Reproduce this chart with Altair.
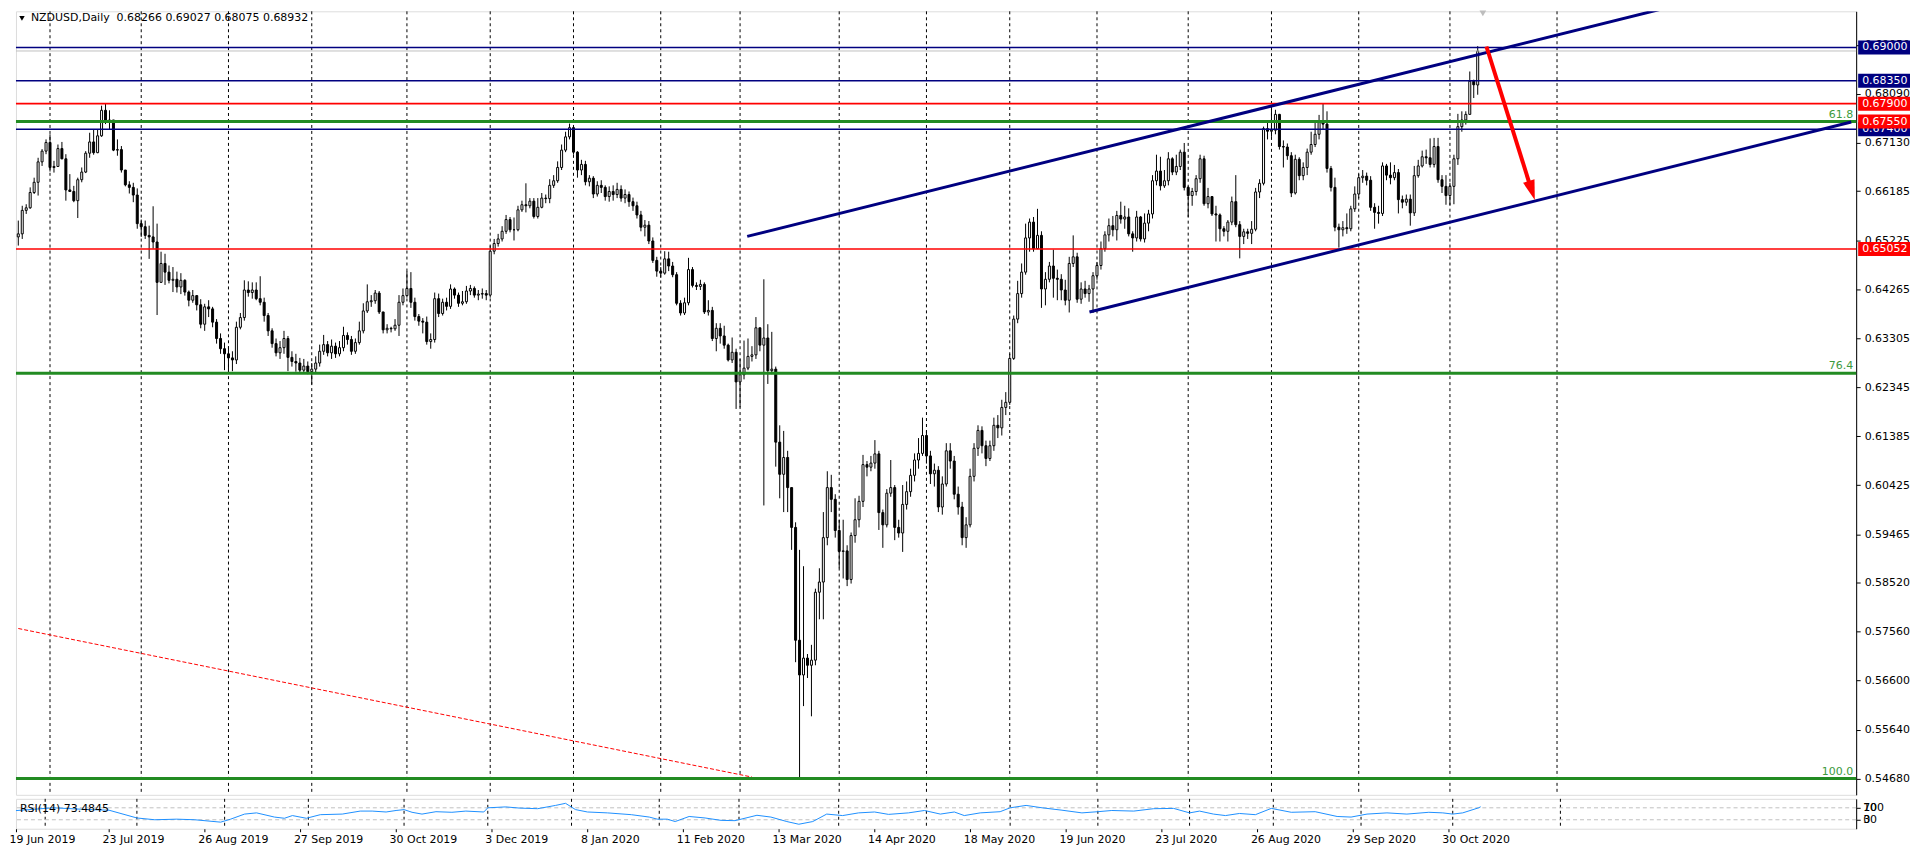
import altair as alt
import pandas as pd

FONT = "DejaVu Sans"
NAVY = "#000080"
RED = "#FF0000"
GREEN = "#228B22"
FIB_TEXT = "#3C9A3C"
RSI_BLUE = "#1E90FF"

symbol = "NZDUSD,Daily"
first_open = 6529
# daily closes / highs / lows in 1/10000 (bar 0 = 19 Jun 2019)
closes = [
    6535, 6581, 6586, 6616, 6636, 6676, 6697, 6714, 6665, 6667,
    6702, 6682, 6621, 6618, 6600, 6641, 6656, 6693, 6715, 6694,
    6727, 6777, 6756, 6758, 6699, 6700, 6660, 6631, 6626, 6611,
    6555, 6549, 6532, 6529, 6519, 6440, 6477, 6460, 6444, 6446,
    6431, 6444, 6421, 6405, 6414, 6396, 6358, 6392, 6388, 6362,
    6330, 6310, 6300, 6292, 6288, 6352, 6371, 6425, 6420, 6425,
    6408, 6401, 6375, 6345, 6320, 6302, 6312, 6330, 6293, 6285,
    6282, 6268, 6276, 6265, 6270, 6282, 6305, 6318, 6302, 6315,
    6300, 6312, 6336, 6328, 6305, 6322, 6345, 6384, 6402, 6404,
    6419, 6382, 6347, 6350, 6349, 6356, 6401, 6414, 6428, 6401,
    6373, 6364, 6362, 6324, 6328, 6408, 6379, 6401, 6393, 6427,
    6415, 6399, 6402, 6423, 6428, 6415, 6417, 6418, 6415, 6501,
    6516, 6525, 6540, 6563, 6543, 6543, 6582, 6592, 6590, 6599,
    6569, 6587, 6605, 6604, 6630, 6639, 6665, 6699, 6725, 6743,
    6695, 6660, 6671, 6637, 6644, 6613, 6630, 6626, 6608, 6618,
    6612, 6622, 6605, 6612, 6598, 6590, 6572, 6548, 6552, 6521,
    6483, 6462, 6458, 6486, 6472, 6455, 6399, 6380, 6400, 6465,
    6434, 6432, 6436, 6382, 6385, 6330, 6350, 6335, 6317, 6288,
    6303, 6245, 6259, 6272, 6295, 6298, 6351, 6317, 6331, 6267,
    6270, 6127, 6064, 6097, 6038, 5960, 5739, 5671, 5704, 5690,
    5700, 5833, 5853, 5940, 6038, 6015, 5954, 5913, 5914, 5858,
    5944, 5975, 6011, 6083, 6078, 6086, 6104, 5989, 5965, 6027,
    6038, 5960, 5949, 6005, 6030, 6062, 6092, 6105, 6140, 6100,
    6065, 6072, 6000, 6045, 6110, 6090, 6025, 6000, 5940, 5965,
    6060, 6115, 6150, 6120, 6095, 6120, 6160, 6155, 6195, 6205,
    6291, 6368, 6418, 6460, 6527, 6558, 6506, 6532, 6427, 6446,
    6472, 6448, 6446, 6425, 6405, 6477, 6490, 6407, 6427, 6418,
    6427, 6453, 6473, 6506, 6533, 6551, 6543, 6571, 6564, 6568,
    6535, 6527, 6568, 6525, 6556, 6574, 6639, 6658, 6629, 6639,
    6682, 6656, 6667, 6695, 6626, 6610, 6618, 6643, 6682, 6594,
    6608, 6574, 6572, 6545, 6540, 6558, 6598, 6553, 6530, 6539,
    6536, 6544, 6617, 6634, 6741, 6736, 6738, 6769, 6706, 6705,
    6688, 6615, 6681, 6649, 6665, 6695, 6710, 6730, 6753, 6750,
    6663, 6626, 6548, 6543, 6547, 6545, 6584, 6613, 6645, 6648,
    6640, 6587, 6577, 6575, 6668, 6650, 6645, 6655, 6602, 6597,
    6603, 6576, 6649, 6668, 6686, 6684, 6671, 6706, 6641, 6628,
    6610, 6628, 6682, 6745, 6758, 6769, 6834, 6827, 6893,
]
highs = [
    6561, 6590, 6593, 6626, 6645, 6684, 6701, 6720, 6730, 6678,
    6710, 6715, 6691, 6652, 6629, 6645, 6665, 6697, 6733, 6740,
    6740, 6786, 6790, 6777, 6757, 6720, 6707, 6660, 6638, 6635,
    6624, 6563, 6561, 6551, 6589, 6555, 6500, 6496, 6473, 6470,
    6461, 6458, 6446, 6424, 6425, 6415, 6407, 6398, 6405, 6392,
    6368, 6340, 6322, 6315, 6305, 6363, 6380, 6444, 6442, 6440,
    6440, 6452, 6410, 6380, 6350, 6330, 6325, 6345, 6335, 6305,
    6300, 6292, 6290, 6285, 6282, 6295, 6318, 6337, 6325, 6328,
    6322, 6325, 6353, 6342, 6335, 6330, 6363, 6399, 6436, 6415,
    6425, 6423, 6381, 6358, 6353, 6368, 6415, 6428, 6462, 6460,
    6410, 6378, 6370, 6373, 6340, 6420, 6418, 6408, 6410, 6436,
    6430, 6420, 6423, 6433, 6435, 6432, 6425, 6428, 6425, 6512,
    6525, 6535, 6550, 6572, 6568, 6567, 6590, 6600, 6634, 6605,
    6605, 6605, 6615, 6612, 6642, 6650, 6677, 6710, 6735, 6751,
    6745, 6697, 6680, 6678, 6650, 6648, 6638, 6640, 6630, 6628,
    6630, 6635, 6630, 6622, 6618, 6606, 6598, 6580, 6562, 6560,
    6528, 6490, 6470, 6501, 6500, 6480, 6460, 6405, 6410, 6488,
    6470, 6440, 6445, 6440, 6405, 6392, 6360, 6360, 6355, 6320,
    6332, 6310, 6290, 6326, 6330, 6315, 6372, 6350, 6446, 6358,
    6343, 6275, 6160, 6149, 6110, 6035, 5970, 5916, 5884, 5712,
    5730, 5840, 5880, 5990, 6070, 6063, 6025, 5975, 5975, 5925,
    5950, 6017, 6022, 6102, 6090, 6100, 6131, 6110, 5995, 6035,
    6092, 6043, 5975, 6043, 6050, 6075, 6105, 6135, 6175, 6150,
    6110, 6085, 6080, 6060, 6125, 6125, 6100, 6040, 6010, 5980,
    6075, 6125, 6160, 6158, 6130, 6130, 6175, 6180, 6210, 6225,
    6300, 6375, 6443, 6477, 6555, 6565, 6568, 6584, 6540, 6460,
    6480, 6504, 6465, 6456, 6445, 6490, 6532, 6498, 6440, 6443,
    6435, 6460, 6480, 6520, 6540, 6565, 6570, 6580, 6598, 6590,
    6585, 6540, 6580, 6570, 6575, 6582, 6650, 6690, 6686, 6660,
    6695, 6685, 6690, 6700, 6713, 6628, 6625, 6650, 6690, 6688,
    6625, 6598, 6590, 6575, 6550, 6562, 6608, 6650, 6560, 6545,
    6545, 6560, 6625, 6642, 6745, 6755, 6780, 6778, 6770, 6718,
    6712, 6695, 6690, 6685, 6675, 6702, 6735, 6755, 6768, 6790,
    6775, 6668, 6645, 6555, 6560, 6575, 6590, 6628, 6652, 6660,
    6655, 6648, 6595, 6590, 6675, 6672, 6675, 6670, 6662, 6610,
    6612, 6612, 6668, 6680, 6698, 6700, 6722, 6723, 6723, 6650,
    6650, 6635, 6690, 6770, 6775, 6775, 6853, 6837, 6903,
]
lows = [
    6512, 6525, 6574, 6584, 6613, 6610, 6668, 6691, 6657, 6655,
    6668, 6681, 6600, 6617, 6597, 6566, 6636, 6654, 6684, 6690,
    6693, 6725, 6750, 6740, 6697, 6688, 6655, 6628, 6614, 6597,
    6545, 6529, 6525, 6486, 6506, 6376, 6440, 6435, 6438, 6421,
    6420, 6417, 6414, 6393, 6400, 6385, 6350, 6345, 6372, 6352,
    6320, 6300, 6268, 6265, 6266, 6280, 6348, 6365, 6412, 6408,
    6405, 6395, 6363, 6335, 6312, 6295, 6290, 6300, 6266, 6275,
    6265, 6262, 6262, 6260, 6240, 6262, 6275, 6298, 6295, 6290,
    6292, 6295, 6305, 6318, 6298, 6300, 6318, 6340, 6380, 6392,
    6398, 6378, 6340, 6340, 6342, 6345, 6335, 6395, 6410, 6390,
    6365, 6355, 6340, 6318, 6310, 6322, 6372, 6375, 6385, 6388,
    6408, 6392, 6395, 6398, 6415, 6410, 6405, 6408, 6405, 6410,
    6495, 6510, 6520, 6535, 6538, 6522, 6540, 6578, 6577, 6585,
    6565, 6565, 6585, 6595, 6595, 6625, 6635, 6660, 6695, 6720,
    6690, 6645, 6650, 6630, 6628, 6605, 6608, 6615, 6600, 6598,
    6600, 6605, 6598, 6595, 6588, 6580, 6565, 6540, 6530, 6515,
    6478, 6451, 6449, 6455, 6462, 6450, 6395, 6375, 6376, 6395,
    6430, 6425, 6425, 6378, 6375, 6325, 6305, 6320, 6310, 6285,
    6282, 6192, 6195, 6250, 6268, 6285, 6290, 6305, 6003, 6241,
    6260, 6079, 6017, 5990, 5990, 5916, 5696, 5468, 5610, 5665,
    5590, 5690, 5780, 5780, 5925, 5990, 5940, 5880, 5860, 5845,
    5850, 5930, 5960, 6000, 6060, 6070, 6075, 5955, 5920, 5960,
    6020, 5935, 5940, 5912, 5995, 6020, 6050, 6075, 6100, 6085,
    6045, 6040, 5990, 5985, 6040, 6075, 6015, 5985, 5925, 5920,
    5960, 6050, 6100, 6105, 6080, 6090, 6110, 6135, 6140, 6180,
    6200, 6288, 6360, 6410, 6455, 6500, 6500, 6505, 6390, 6395,
    6440, 6410, 6405, 6405, 6395, 6381, 6470, 6400, 6398, 6410,
    6402, 6380, 6445, 6465, 6500, 6520, 6530, 6522, 6555, 6545,
    6530, 6500, 6520, 6520, 6518, 6540, 6565, 6630, 6620, 6625,
    6630, 6650, 6650, 6660, 6620, 6568, 6590, 6610, 6635, 6590,
    6585, 6570, 6520, 6520, 6530, 6520, 6552, 6548, 6487, 6515,
    6525, 6515, 6540, 6605, 6630, 6720, 6725, 6730, 6700, 6665,
    6680, 6607, 6612, 6640, 6640, 6650, 6690, 6705, 6720, 6740,
    6655, 6618, 6540, 6508, 6530, 6535, 6540, 6578, 6605, 6635,
    6630, 6580, 6545, 6555, 6570, 6640, 6632, 6640, 6575, 6585,
    6590, 6551, 6570, 6645, 6665, 6672, 6665, 6665, 6635, 6615,
    6592, 6591, 6593, 6670, 6735, 6749, 6778, 6801, 6808,
]
last_bar = [0.68266, 0.69027, 0.68075, 0.68932]  # O H L C shown in header

date_labels = ["19 Jun 2019", "23 Jul 2019", "26 Aug 2019", "27 Sep 2019",
               "30 Oct 2019", "3 Dec 2019", "8 Jan 2020", "11 Feb 2020",
               "13 Mar 2020", "14 Apr 2020", "18 May 2020", "19 Jun 2020",
               "23 Jul 2020", "26 Aug 2020", "29 Sep 2020", "30 Oct 2020"]
label_idx = [0, 24, 48, 72, 96, 120, 144, 168, 192, 216, 240, 264, 288, 312, 336, 360]
month_idx = [8, 31, 53, 74, 98, 119, 140, 162, 182, 207, 229, 250, 272, 295, 316, 338, 361, 388]
price_ticks = [0.69050, 0.68090, 0.67130, 0.66185, 0.65225, 0.64265, 0.63305, 0.62345,
               0.61385, 0.60425, 0.59465, 0.58520, 0.57560, 0.56600, 0.55640, 0.54680]

navy_levels = [0.69000, 0.68350, 0.67400]
red_levels = [0.67900, 0.65052]
bid_level = [0.68932]
fib_levels = [0.67550, 0.62620, 0.54680]
fib_names = ["61.8", "76.4", "100.0"]
box_prices = [0.69000, 0.68350, 0.67900, 0.67550, 0.65052]
box_texts = ["0.69000", "0.68350", "0.67900", "0.67550", "0.65052"]
box_colors = [NAVY, NAVY, RED, RED, RED]
under_box_price = [0.67400]
under_box_text = ["0.67400"]

channel_name = ["upper", "upper", "lower", "lower"]
channel_idx = [183.8, 414.4, 270.1, 462.2]
channel_price = [0.65300, 0.69754, 0.63818, 0.67540]
fib_trend_idx = [0.0, 185.0]
fib_trend_price = [0.5762, 0.5471]
arrow_idx = [370.2, 381.0]
arrow_price = [0.6902, 0.6635]
arrow_tip_idx = [382.4]
arrow_tip_price = [0.66013]
shift_idx = [369.3]
shift_price = [0.6967]

rsi_idx = [0, 10, 19, 24, 31, 35.5, 41, 45.5, 52, 54.5,
           58, 61, 65.5, 68, 70, 73.5, 77, 82.5, 87, 90,
           93.5, 96, 98, 100, 102.5, 106, 110, 113.5, 118, 119,
           123.5, 127, 131.5, 136, 138.5, 141, 144, 149, 155, 159.5,
           161.5, 164, 166, 169.5, 173.5, 177.5, 181, 186.5, 190, 194,
           197, 200.5, 204, 208, 212, 216, 219.5, 224.5, 228.5, 232.5,
           236, 238.5, 242.5, 247.5, 250, 254, 258, 263, 268, 272,
           275.5, 281, 286, 291, 295, 297.5, 301, 304, 307.5, 311.5,
           315.5, 320.5, 326.5, 332, 335.5, 339.5, 344.5, 349.5, 355, 358.5,
           361, 363.5, 367.5, 368]
rsi_val = [60, 70, 64, 62, 36, 30, 32, 30, 22, 32,
           49, 53, 39, 35, 44, 35, 47, 49, 59, 59,
           56, 61, 64, 55, 49, 57, 55, 59, 56, 70,
           73, 69, 67, 78, 85, 64, 56, 53, 47, 39,
           32, 32, 24, 41, 36, 28, 27, 45, 39, 24,
           15, 24, 49, 44, 53, 56, 48, 53, 61, 49,
           56, 44, 53, 57, 70, 78, 70, 62, 53, 57,
           61, 59, 67, 68, 53, 59, 49, 44, 51, 47,
           68, 55, 57, 41, 39, 49, 53, 49, 55, 53,
           49, 53, 70, 73.4845]
rsi_levels = [30, 70]
rsi_side_v = [70, 70, 30, 30]
rsi_side_t = ["100", "70", "30", "0"]

# ---------------- geometry -----------------
W = 1846
H = 786
RH = 30
BAR_PX = 4
X_DOMAIN = [0.675, 0.675 + W / BAR_PX]
PX_PER_UNIT = 5121.5
Y_TOP = 0.697088
Y_DOMAIN = [Y_TOP - H / PX_PER_UNIT, Y_TOP]
BOX_HALF = 7 / PX_PER_UNIT

xs = alt.Scale(domain=X_DOMAIN, nice=False, zero=False)
ys = alt.Scale(domain=Y_DOMAIN, nice=False, zero=False)

n = min(len(closes), len(highs), len(lows))
opens = [first_open] + closes[:-1]
rows = []
for k in range(n):
    o, c, h, l = opens[k] / 1e4, closes[k] / 1e4, highs[k] / 1e4, lows[k] / 1e4
    if k == n - 1:
        o, h, l, c = last_bar
    rows.append({"i": k, "o": o, "c": c, "h": max(h, o, c), "l": min(l, o, c)})
cdf = pd.DataFrame(rows)

yaxis = alt.Axis(orient="right", values=price_ticks, format=".5f", title=None, grid=False,
                 tickSize=4, labelPadding=4, labelFont=FONT, labelFontSize=11,
                 labelColor="black", domainColor="black", tickColor="black",
                 labelOverlap=False, labelFlush=False, zindex=0)


def XQ(field="i"):
    return alt.X(f"{field}:Q", scale=xs, axis=None)


def YQ(field="p"):
    return alt.Y(f"{field}:Q", scale=ys, axis=yaxis)


grid = alt.Chart(pd.DataFrame({"i": month_idx})).mark_rule(
    color="black", strokeDash=[3, 3], strokeWidth=1).encode(x=XQ())

wicks = alt.Chart(cdf).mark_rule(color="black", strokeWidth=1).encode(
    x=XQ(), y=YQ("l"), y2="h:Q")
bodies = alt.Chart(cdf).mark_bar(size=2, orient="vertical", stroke="black", strokeWidth=1).encode(
    x=XQ(), y=YQ("o"), y2="c:Q",
    fill=alt.condition("datum.c >= datum.o", alt.value("white"), alt.value("black")))

fib_trend = alt.Chart(pd.DataFrame({"i": fib_trend_idx, "p": fib_trend_price})).mark_line(
    color=RED, strokeDash=[4, 2], strokeWidth=1, clip=True).encode(x=XQ(), y=YQ())

navy_lines = alt.Chart(pd.DataFrame({"p": navy_levels})).mark_rule(
    color=NAVY, strokeWidth=1.6).encode(y=YQ())
red_lines = alt.Chart(pd.DataFrame({"p": red_levels})).mark_rule(
    color=RED, strokeWidth=1.6).encode(y=YQ())
bid_line = alt.Chart(pd.DataFrame({"p": bid_level})).mark_rule(
    color="#C0C0C0", strokeWidth=1).encode(y=YQ())
fib_lines = alt.Chart(pd.DataFrame({"p": fib_levels})).mark_rule(
    color=GREEN, strokeWidth=3).encode(y=YQ())
fib_text = alt.Chart(pd.DataFrame({"p": fib_levels, "t": fib_names})).mark_text(
    align="right", baseline="bottom", dy=-2, font=FONT, fontSize=11, color=FIB_TEXT).encode(
    x=alt.value(W - 3), y=YQ(), text="t:N")

channels = alt.Chart(pd.DataFrame({"g": channel_name, "i": channel_idx, "p": channel_price})).mark_line(
    color=NAVY, strokeWidth=3, clip=True).encode(x=XQ(), y=YQ(), detail="g:N")

arrow_line = alt.Chart(pd.DataFrame({"i": arrow_idx, "p": arrow_price})).mark_line(
    color=RED, strokeWidth=4, clip=True).encode(x=XQ(), y=YQ())
arrow_head = alt.Chart(pd.DataFrame({"i": arrow_tip_idx, "p": arrow_tip_price})).mark_point(
    shape="M0,0L-0.6,-2L0.6,-2Z", size=400, filled=True, color=RED, opacity=1,
    angle=342.4).encode(x=XQ(), y=YQ())

shift_mark = alt.Chart(pd.DataFrame({"i": shift_idx, "p": shift_price})).mark_point(
    shape="triangle-down", size=45, filled=True, color="#BDBDBD", opacity=1).encode(x=XQ(), y=YQ())


def box_layers(prices, texts, colors):
    d = pd.DataFrame({"p": prices, "t": texts, "col": colors})
    d["top"] = d["p"] + BOX_HALF
    d["bot"] = d["p"] - BOX_HALF
    rect = alt.Chart(d).mark_rect().encode(
        x=alt.value(W + 2), x2=alt.value(W + 54), y=YQ("top"), y2="bot:Q",
        color=alt.Color("col:N", scale=None))
    txt = alt.Chart(d).mark_text(align="left", baseline="middle", font=FONT, fontSize=11,
                                 color="white").encode(
        x=alt.value(W + 6), y=YQ(), text="t:N")
    return [rect, txt]


under = box_layers(under_box_price, under_box_text, [NAVY])
over = box_layers(box_prices, box_texts, box_colors)

title_str = symbol + "\u00a0 " + " ".join(f"{v:.5f}" for v in last_bar)
title_tri = alt.Chart(pd.DataFrame({"a": [0]})).mark_point(
    shape="triangle-down", size=30, filled=True, color="black", opacity=1).encode(
    x=alt.value(6), y=alt.value(7))
title_txt = alt.Chart(pd.DataFrame({"t": [title_str]})).mark_text(
    align="left", baseline="middle", font=FONT, fontSize=11, color="black").encode(
    x=alt.value(15), y=alt.value(7), text="t:N")

main = alt.layer(
    grid, wicks, bodies, fib_trend, bid_line, navy_lines, red_lines, fib_lines,
    channels, arrow_line, arrow_head, fib_text, shift_mark,
    *under, *over, title_tri, title_txt
).properties(width=W, height=H)

# ---------------- RSI panel -----------------
rs = alt.Scale(domain=[0, 100], nice=False, zero=False)
# first label sits on the left edge of the plot (bar 0 is half cut by the frame)
tick_vals = [max(v, X_DOMAIN[0]) for v in label_idx]
label_js = "[" + ",".join(f"'{s}'" for s in date_labels) + "][round(datum.value/24)]"
xaxis = alt.Axis(orient="bottom", values=tick_vals, labelExpr=label_js, title=None, grid=False,
                 tickSize=3, tickColor="black", domain=False, labelAlign="left", labelFlush=False,
                 labelFont=FONT, labelFontSize=11, labelColor="black", labelPadding=2,
                 labelOffset=-7, labelOverlap=False)
ryaxis = alt.Axis(orient="right", values=rsi_levels, labels=False, title=None, grid=False,
                  tickSize=4, tickColor="black", domainColor="black")

r_grid = alt.Chart(pd.DataFrame({"i": month_idx})).mark_rule(
    color="black", strokeDash=[3, 3], strokeWidth=1).encode(
    x=alt.X("i:Q", scale=xs, axis=xaxis))
r_levels = alt.Chart(pd.DataFrame({"v": rsi_levels})).mark_rule(
    color="#C0C0C0", strokeDash=[4, 3], strokeWidth=1).encode(
    y=alt.Y("v:Q", scale=rs, axis=ryaxis))
r_line = alt.Chart(pd.DataFrame({"i": rsi_idx, "v": rsi_val})).mark_line(
    color=RSI_BLUE, strokeWidth=1, clip=True).encode(
    x=alt.X("i:Q", scale=xs, axis=xaxis), y=alt.Y("v:Q", scale=rs, axis=ryaxis))
r_title = alt.Chart(pd.DataFrame({"t": [f"RSI(14) {rsi_val[-1]:.4f}"]})).mark_text(
    align="left", baseline="middle", font=FONT, fontSize=11, color="black").encode(
    x=alt.value(4), y=alt.value(10), text="t:N")
r_side = alt.Chart(pd.DataFrame({"v": rsi_side_v, "t": rsi_side_t})).mark_text(
    align="left", baseline="middle", font=FONT, fontSize=11, color="black").encode(
    x=alt.value(W + 7), y=alt.Y("v:Q", scale=rs, axis=ryaxis), text="t:N")

rsi = alt.layer(r_grid, r_levels, r_line, r_title, r_side).properties(width=W, height=RH)

chart = alt.vconcat(main, rsi, spacing=2).properties(
    padding=0, background="white"
).configure_view(stroke="black", strokeWidth=1).configure(font=FONT)

chart.save("out.html", embed_options={"renderer": "svg", "actions": False})
